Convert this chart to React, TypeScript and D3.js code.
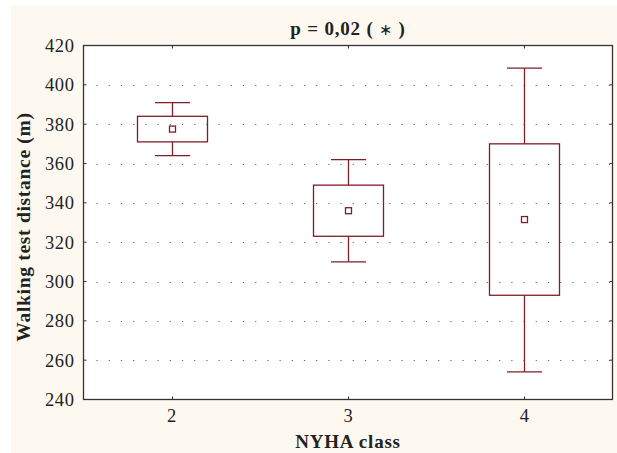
import React from "react";
import * as d3 from "d3";

const categories = [2, 3, 4];
const whiskerLow = [364, 310, 254];
const boxLow = [371, 323, 293];
const means = [377.5, 336, 331.5];
const boxHigh = [384, 349, 370];
const whiskerHigh = [391, 362, 408.5];
const yTicks = [240, 260, 280, 300, 320, 340, 360, 380, 400, 420];

const W = 617, H = 453;
const L = 83.5, R = 612.5, T = 45.5, B = 399.5;
const RED = "#7d1f27";
const FONT = "'Liberation Serif', 'Times New Roman', serif";

export default function App() {
  const x = d3.scaleLinear().domain([1.5, 4.5]).range([L, R]);
  const y = d3.scaleLinear().domain([240, 420]).range([B, T]);
  const boxHalf = 35;
  const capHalf = 17.5;
  return (
    <svg width={W} height={H} style={{ position: "absolute", left: 0, top: 0 }}>
      <rect x={0} y={0} width={W} height={H} fill="#ffffff" />
      <rect x={11} y={5} width={W - 11} height={H - 5} fill="#fdf9f1" />
      <rect x={L} y={T} width={R - L} height={B - T} fill="#ffffff" />
      {yTicks.slice(1, -1).map((t) => (
        <line key={"g" + t} x1={L + 13} x2={R} y1={Math.round(y(t)) + 0.5} y2={Math.round(y(t)) + 0.5}
          stroke="#666" strokeWidth={1.2} strokeDasharray="1.2 11" />
      ))}
      {categories.map((c, i) => {
        const cx = Math.round(x(c)) + 0.5;
        return (
          <g key={c} stroke={RED} strokeWidth={1.3} fill="none">
            <line x1={cx} x2={cx} y1={y(whiskerHigh[i])} y2={y(boxHigh[i])} />
            <line x1={cx} x2={cx} y1={y(boxLow[i])} y2={y(whiskerLow[i])} />
            <line x1={cx - capHalf} x2={cx + capHalf} y1={y(whiskerHigh[i])} y2={y(whiskerHigh[i])} />
            <line x1={cx - capHalf} x2={cx + capHalf} y1={y(whiskerLow[i])} y2={y(whiskerLow[i])} />
            <rect x={cx - boxHalf} y={y(boxHigh[i])} width={2 * boxHalf} height={y(boxLow[i]) - y(boxHigh[i])} />
            <rect x={cx - 3} y={y(means[i]) - 3} width={6} height={6} />
          </g>
        );
      })}
      <rect x={L} y={T} width={R - L} height={B - T} fill="none" stroke="#333" strokeWidth={1.3} />
      {yTicks.map((t) => (
        <g key={"t" + t}>
          <line x1={L} x2={L + 3} y1={y(t)} y2={y(t)} stroke="#333" />
          <line x1={R - 3} x2={R} y1={y(t)} y2={y(t)} stroke="#333" />
          <text x={L - 9} y={y(t)} dy="0.35em" textAnchor="end" fontFamily={FONT} fontSize={18.5} letterSpacing={0.6} fill="#222">{t}</text>
        </g>
      ))}
      {categories.map((c) => (
        <g key={"x" + c}>
          <line x1={Math.round(x(c)) + 0.5} x2={Math.round(x(c)) + 0.5} y1={T} y2={T + 3} stroke="#333" />
          <line x1={Math.round(x(c)) + 0.5} x2={Math.round(x(c)) + 0.5} y1={B - 3} y2={B} stroke="#333" />
          <text x={x(c)} y={B + 22} textAnchor="middle" fontFamily={FONT} fontSize={18.5} fill="#222">{c}</text>
        </g>
      ))}
      <text x={(L + R) / 2} y={35} textAnchor="middle" fontFamily={FONT} fontSize={19} fontWeight="bold" letterSpacing={0.8} fill="#222">
        p = 0,02 ( <tspan fontWeight="normal" fontSize={16}>∗</tspan> )
      </text>
      <text x={(L + R) / 2} y={448} textAnchor="middle" fontFamily={FONT} fontSize={19} fontWeight="bold" letterSpacing={0.8} fill="#222">NYHA class</text>
      <text transform={`translate(30,227) rotate(-90)`} textAnchor="middle" fontFamily={FONT} fontSize={19.5} fontWeight="bold" letterSpacing={0.7} fill="#222">Walking test distance (m)</text>
    </svg>
  );
}
